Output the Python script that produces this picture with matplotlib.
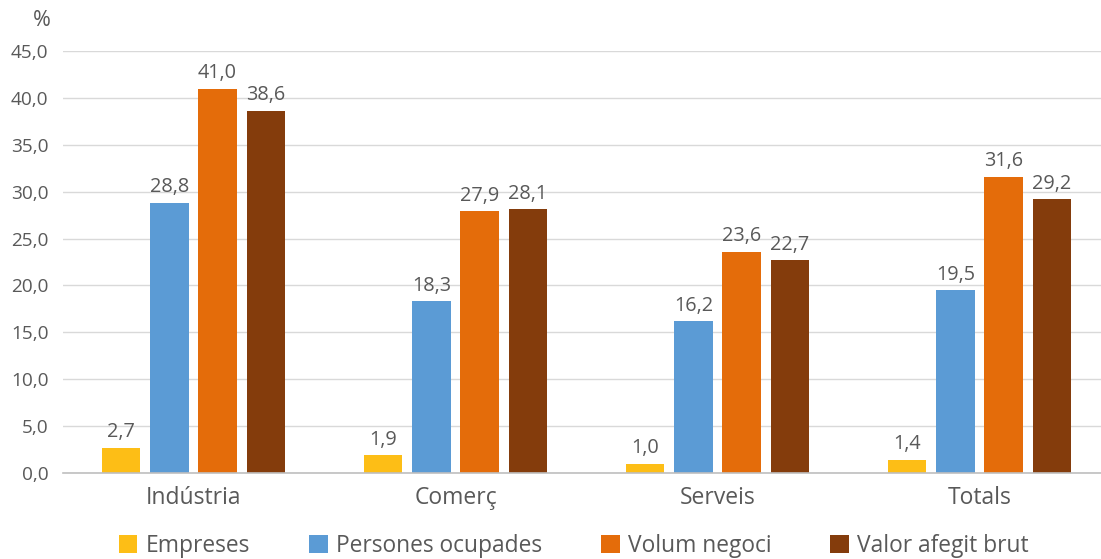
import numpy as np
import matplotlib.pyplot as plt
from matplotlib.patches import Patch

plt.rcParams['font.family'] = ['Open Sans', 'DejaVu Sans']

categories = ["Indústria", "Comerç", "Serveis", "Totals"]
series_names = ["Empreses", "Persones ocupades", "Volum negoci", "Valor afegit brut"]
empreses = [2.7, 1.9, 1.0, 1.4]
persones = [28.8, 18.3, 16.2, 19.5]
volum = [41.0, 27.9, 23.6, 31.6]
valor = [38.6, 28.1, 22.7, 29.2]
yticks = [0, 5, 10, 15, 20, 25, 30, 35, 40, 45]

colors = ["#FDBE16", "#5B9BD5", "#E46C0A", "#843C0C"]
text_color = "#595959"

fig = plt.figure(figsize=(11.01, 5.59), dpi=100)
# axes run slightly past the right edge so the groups sit where they do in the reference
ax = fig.add_axes([62.5 / 1101, 1 - 473 / 559, 1048 / 1101, (473 - 51) / 559])

x = np.arange(len(categories))
pitch = 0.184
width = 0.146
all_series = [empreses, persones, volum, valor]

for k, vals in enumerate(all_series):
    pos = x + (k - 1.5) * pitch
    bars = ax.bar(pos, vals, width=width, color=colors[k], zorder=3)
    for b, v in zip(bars, vals):
        ax.annotate(f"{v:.1f}".replace(".", ","),
                    (b.get_x() + b.get_width() / 2, v),
                    xytext=(0, 4), textcoords="offset points",
                    ha="center", va="bottom", fontsize=14.3, color=text_color)

ax.set_xlim(-0.5, 3.5)
ax.set_ylim(0, 45)
ax.set_yticks(yticks)
ax.set_yticklabels([f"{t:.1f}".replace(".", ",") for t in yticks])
ax.set_xticks(x)
ax.set_xticklabels(categories)
ax.tick_params(axis="y", length=0, labelsize=13.7, labelcolor=text_color, pad=10)
ax.tick_params(axis="x", length=0, labelsize=16.5, labelcolor=text_color, pad=9)
ax.grid(axis="y", color="#D9D9D9", linewidth=1, zorder=0)
for s in ["top", "right", "left"]:
    ax.spines[s].set_visible(False)
ax.spines["bottom"].set_color("#BFBFBF")
ax.spines["bottom"].set_linewidth(1.2)
ax.spines["bottom"].set_zorder(4)

fig.text(33 / 1101, 1 - 21 / 559, "%", fontsize=15.5, color=text_color, va="center")

handles = [Patch(facecolor=c) for c in colors]
fig.legend(handles, series_names, loc="center", bbox_to_anchor=(0.521, 1 - 546 / 559),
           ncol=4, frameon=False, fontsize=16.4, handlelength=0.82, handleheight=0.82,
           handletextpad=0.35, columnspacing=2.6, labelcolor=text_color)

fig.savefig("out.png", dpi=100)
